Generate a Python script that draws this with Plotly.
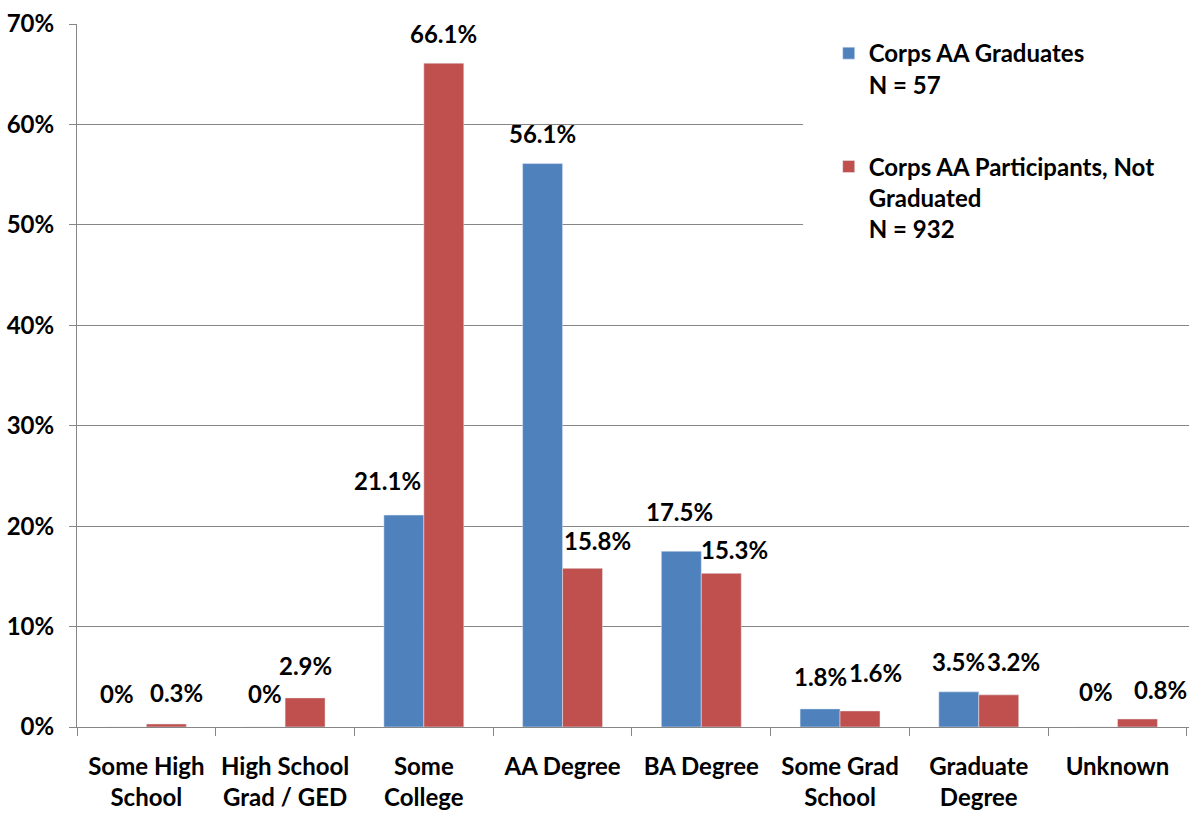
import plotly.graph_objects as go

categories = ["Some High<br>School", "High School<br>Grad / GED", "Some<br>College", "AA Degree",
              "BA Degree", "Some Grad<br>School", "Graduate<br>Degree", "Unknown"]
graduates = [0.0, 0.0, 21.1, 56.1, 17.5, 1.8, 3.5, 0.0]
not_graduated = [0.3, 2.9, 66.1, 15.8, 15.3, 1.6, 3.2, 0.8]
graduates_labels = ["0%", "0%", "21.1%", "56.1%", "17.5%", "1.8%", "3.5%", "0%"]
not_graduated_labels = ["0.3%", "2.9%", "66.1%", "15.8%", "15.3%", "1.6%", "3.2%", "0.8%"]
series_names = ["Corps AA Graduates<br>N = 57", "Corps AA Participants, Not<br>Graduated<br>N = 932"]
y_ticks = [0, 10, 20, 30, 40, 50, 60, 70]

# label placement styling (pixel offsets)
BAR_HALF = 20
dx_blue = [-9, 0, -16, 0, -2, 0, 0, -2]
dx_red = [10, 0, 0, 15, 13, 15, 15, 23]
dy_blue = [34, 34, 35, 30, 40, 32, 30, 36]
dy_red = [31, 32, 30, 28, 24, 38, 33, 29]

BLUE = "#4F81BD"
RED = "#C0504D"
FONT = "Lato"
FS = 24

fig = go.Figure()
fig.add_trace(go.Bar(x=categories, y=graduates, name=series_names[0], marker_color=BLUE,
                     legendgroup="g1"))
fig.add_trace(go.Bar(x=categories, y=not_graduated, name=series_names[1], marker_color=RED,
                     legendgroup="g2"))

annotations = []
for vals, labs, dxs, dys, base in [(graduates, graduates_labels, dx_blue, dy_blue, -BAR_HALF),
                                   (not_graduated, not_graduated_labels, dx_red, dy_red, BAR_HALF)]:
    for c, v, t, dx, dy in zip(categories, vals, labs, dxs, dys):
        annotations.append(dict(x=c, y=v, xref="x", yref="y", text=t, showarrow=False,
                                xanchor="center", yanchor="middle",
                                xshift=base + dx, yshift=dy,
                                font=dict(family=FONT, size=FS, color="black", weight="bold")))

fig.update_layout(
    width=1190, height=814,
    margin=dict(l=77, r=1, t=24, b=87),
    paper_bgcolor="white", plot_bgcolor="white",
    font=dict(family=FONT, size=FS, color="black", weight="bold"),
    barmode="group", bargap=0.424, bargroupgap=0,
    showlegend=True,
    legend=dict(x=0.676, y=0.99, xanchor="left", yanchor="top",
                bgcolor="white", borderwidth=0, valign="top",
                tracegroupgap=48, traceorder="grouped",
                font=dict(family=FONT, size=FS, color="black", weight="bold")),
    annotations=annotations,
    shapes=[dict(type="rect", xref="paper", yref="y", x0=0.653, x1=1.0, y0=43, y1=69.3,
                 fillcolor="white", line=dict(width=0), layer="above")],
)
fig.update_xaxes(showline=True, linecolor="#868686", linewidth=1,
                 ticks="outside", tickson="boundaries", ticklen=8, tickcolor="#868686",
                 ticklabelstandoff=18,
                 showgrid=False, tickfont=dict(family=FONT, size=FS, color="black", weight="bold"))
fig.update_yaxes(range=[0, 70], tickvals=y_ticks, ticktext=[f"{v}%" for v in y_ticks],
                 showline=True, linecolor="#868686", linewidth=1,
                 ticks="outside", ticklen=7, tickcolor="#868686", ticklabelstandoff=10,
                 showgrid=True, gridcolor="#868686", gridwidth=1, zeroline=False,
                 tickfont=dict(family=FONT, size=FS, color="black", weight="bold"))

fig.write_html("out.html")
